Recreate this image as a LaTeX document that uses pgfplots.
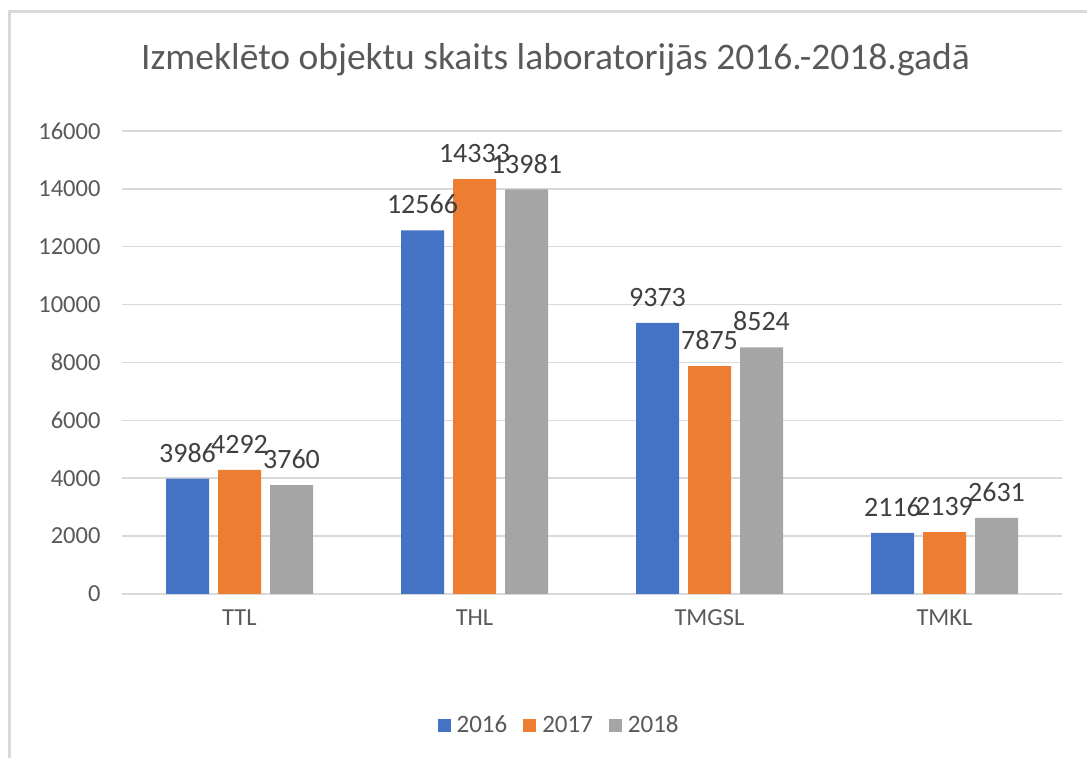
\documentclass[border=0pt]{standalone}
\usepackage{pgfplots}
\pgfplotsset{compat=1.18}
\usepackage{fontspec}
\setmainfont{Carlito}
\definecolor{cblue}{HTML}{4472C4}
\definecolor{corange}{HTML}{ED7D31}
\definecolor{cgray}{HTML}{A5A5A5}
\definecolor{txt}{HTML}{595959}
\definecolor{lbl}{HTML}{404040}
\definecolor{gridc}{HTML}{D9D9D9}
\begin{document}
\begin{tikzpicture}
\path[use as bounding box] (0,0) rectangle (1087bp,758bp);
\draw[gridc, line width=3bp] (9.5bp,0) -- (9.5bp,746bp) -- (1087bp,746bp);
\node[txt, font=\fontsize{37.5bp}{44bp}\selectfont] at (555.5bp,698bp) {Izmeklēto objektu skaits laboratorijās 2016.-2018.gadā};
\begin{axis}[
  at={(122bp,164bp)}, anchor=south west,
  scale only axis, width=940bp, height=463bp,
  ybar=9bp, bar width=43bp,
  xmin=-0.5, xmax=3.5, ymin=0, ymax=16000,
  ytick={0,2000,...,16000},
  scaled y ticks=false,
  yticklabel style={/pgf/number format/fixed, /pgf/number format/precision=0},
  xtick={0,1,2,3}, xticklabels={TTL,THL,TMGSL,TMKL},
  axis x line*=bottom, axis y line*=left,
  x axis line style={draw=gridc, line width=1.5bp, -},
  y axis line style={draw=none},
  ymajorgrids, xmajorgrids=false,
  grid style={draw=gridc, line width=1.5bp},
  major tick length=0pt,
  tick label style={txt, font=\fontsize{24.5bp}{29bp}\selectfont},
  yticklabel style={xshift=-18bp},
  xticklabel style={yshift=-12bp},
  /pgf/number format/assume math mode=true,
  /pgf/number format/1000 sep={},
  nodes near coords,
  every node near coord/.append style={lbl, font=\fontsize{28bp}{33bp}\selectfont, inner sep=0pt, yshift=16bp, /pgf/number format/1000 sep={}},
  legend style={at={(0.465,-0.283)}, anchor=center, draw=none, legend columns=-1,
    font=\fontsize{25bp}{30bp}\selectfont, text=txt,
    /tikz/every even column/.append style={column sep=14bp},
    /tikz/every odd column/.append style={column sep=4bp}},
  legend image code/.code={\fill[#1] (0bp,-6.5bp) rectangle (13bp,6.5bp);},
]
\addplot[fill=cblue, draw=none] coordinates {(0,3986) (1,12566) (2,9373) (3,2116)};
\addplot[fill=corange, draw=none] coordinates {(0,4292) (1,14333) (2,7875) (3,2139)};
\addplot[fill=cgray, draw=none] coordinates {(0,3760) (1,13981) (2,8524) (3,2631)};
\legend{2016,2017,2018}
\end{axis}
\end{tikzpicture}
\end{document}
